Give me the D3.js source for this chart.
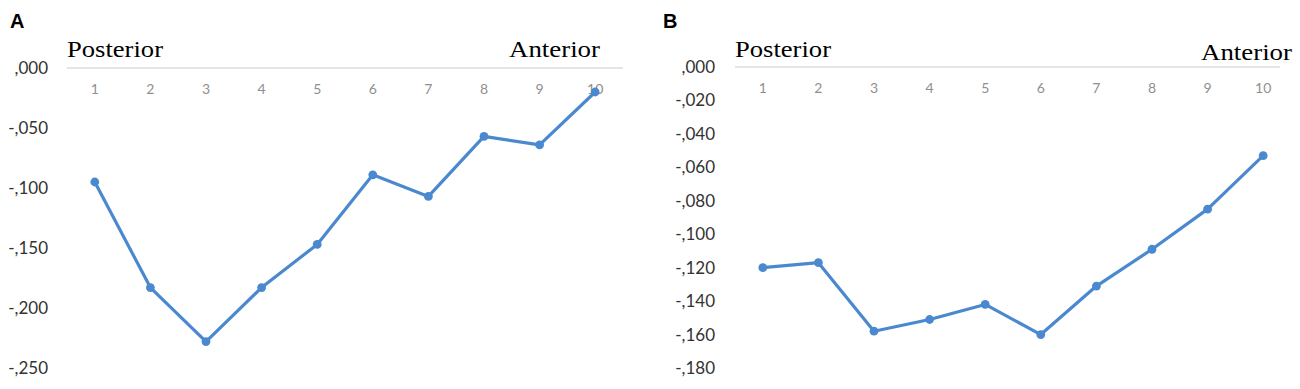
<!DOCTYPE html>
<html>
<head>
<meta charset="utf-8">
<script src="https://cdn.jsdelivr.net/npm/d3@7"></script>
<style>
  body { margin: 0; background: #fff; }
  svg { display: block; }
</style>
</head>
<body>
<svg></svg>
<script>
// data
var positions = ["1", "2", "3", "4", "5", "6", "7", "8", "9", "10"];
var valuesA = [-0.095, -0.183, -0.228, -0.183, -0.147, -0.089, -0.107, -0.057, -0.064, -0.020];
var valuesB = [-0.120, -0.117, -0.158, -0.151, -0.142, -0.160, -0.131, -0.109, -0.085, -0.053];
var ticksA = [0, -0.05, -0.10, -0.15, -0.20, -0.25];
var ticksB = [0, -0.02, -0.04, -0.06, -0.08, -0.10, -0.12, -0.14, -0.16, -0.18];

var w = 1300;
var h = 389;
var lineColor = "#4a89cf";

let svg = d3.select("svg")
  .attr("width", w)
  .attr("height", h);

function fmt(v){
  // ",000" / "-,050" style
  let s = Math.abs(v).toFixed(3).replace("0.", ",");
  return (v < 0 ? "-" : "") + s;
}

function drawPanel(opt){
  let xScale = d3.scaleBand()
    .domain(positions)
    .range([opt.x0, opt.x1]);
  let yScale = d3.scaleLinear()
    .domain([opt.min, 0])
    .range([368, opt.top]);

  let g = svg.append("g");

  // panel letter
  g.append("text")
    .attr("x", opt.x0 - opt.letterOffset)
    .attr("y", 28)
    .style("font-family", "Liberation Sans, Arial, sans-serif")
    .style("font-weight", "bold")
    .style("font-size", "20px")
    .text(opt.letter);

  // zero line at top
  g.append("line")
    .attr("x1", opt.x0)
    .attr("x2", opt.gridEnd)
    .attr("y1", yScale(0))
    .attr("y2", yScale(0))
    .attr("stroke", "#dcdcdc")
    .attr("stroke-width", 1.5);

  // y labels
  let yAxis = d3.axisLeft(yScale)
    .tickValues(opt.ticks)
    .tickFormat(fmt)
    .tickSize(0)
    .tickPadding(0);
  let yG = g.append("g")
    .attr("transform", `translate(${opt.yLabelX},0)`)
    .call(yAxis);
  yG.select(".domain").remove();
  yG.selectAll("text")
    .style("font-family", "Lato, 'Open Sans', sans-serif")
    .style("font-size", "17px")
    .attr("fill", "#333333");

  // category labels just below the zero line
  let xAxis = d3.axisTop(xScale).tickSize(0).tickPadding(0);
  let xG = g.append("g")
    .attr("transform", `translate(0,${yScale(0) + 26})`)
    .call(xAxis);
  xG.select(".domain").remove();
  xG.selectAll("text")
    .style("font-family", "Lato, 'Open Sans', sans-serif")
    .style("font-size", "14px")
    .attr("fill", "#8f8f8f");

  let line = d3.line()
    .x(function(d, i){ return xScale(positions[i]) + xScale.bandwidth() / 2; })
    .y(function(d){ return yScale(d); });

  g.append("path")
    .datum(opt.values)
    .attr("d", line)
    .attr("fill", "none")
    .attr("stroke", lineColor)
    .attr("stroke-width", 3.2)
    .attr("stroke-linejoin", "round");

  g.selectAll("circle")
    .data(opt.values)
    .enter()
    .append("circle")
    .attr("cx", function(d, i){ return xScale(positions[i]) + xScale.bandwidth() / 2; })
    .attr("cy", function(d){ return yScale(d); })
    .attr("r", 4.4)
    .attr("fill", lineColor);

  // Posterior / Anterior
  g.append("text")
    .attr("x", opt.x0)
    .attr("y", 57)
    .attr("textLength", 96)
    .attr("lengthAdjust", "spacingAndGlyphs")
    .style("font-family", "Liberation Serif, 'Times New Roman', serif")
    .style("font-size", "24px")
    .text("Posterior");
  g.append("text")
    .attr("x", opt.antX)
    .attr("y", opt.antY)
    .attr("textLength", 91)
    .attr("lengthAdjust", "spacingAndGlyphs")
    .style("font-family", "Liberation Serif, 'Times New Roman', serif")
    .style("font-size", "24px")
    .text("Anterior");
}

drawPanel({
  letter: "A", letterOffset: 57,
  x0: 67, x1: 623, gridEnd: 623, top: 68, min: -0.25,
  ticks: ticksA, values: valuesA, yLabelX: 48,
  antX: 509, antY: 57
});

drawPanel({
  letter: "B", letterOffset: 72,
  x0: 735, x1: 1291, gridEnd: 1280, top: 67, min: -0.18,
  ticks: ticksB, values: valuesB, yLabelX: 715,
  antX: 1201, antY: 60
});
</script>
</body>
</html>
